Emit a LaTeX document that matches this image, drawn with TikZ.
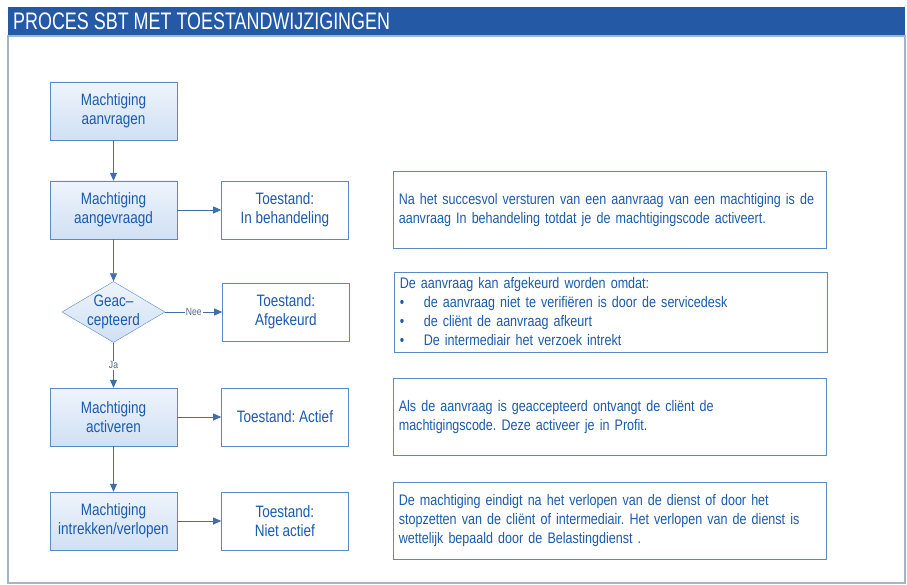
\documentclass[tikz,border=0pt]{standalone}
\usepackage{fontspec}
\setmainfont{Liberation Sans}[FakeStretch=0.82]
\newfontfamily\titlefont{Liberation Sans}[FakeStretch=0.75]
\usepackage{xcolor}
\usetikzlibrary{shapes.geometric,arrows.meta,positioning}
\definecolor{balkblauw}{HTML}{2359A5}
\definecolor{randblauw}{HTML}{5A8AC6}
\definecolor{tekstblauw}{HTML}{1B5BAB}
\definecolor{pijlblauw}{HTML}{3F6EA8}
\definecolor{vulboven}{HTML}{EEF4FB}
\definecolor{vulonder}{HTML}{D0E0F4}
\definecolor{kadergrijs}{HTML}{A3B4CB}
\definecolor{labelgrijs}{HTML}{55698A}
\frenchspacing

\begin{document}
\begin{tikzpicture}[x=1pt,y=-1pt,
    stapfont/.style={font=\fontsize{16.5}{19}\selectfont,text=tekstblauw},
    stap/.style={draw=randblauw,top color=vulboven,bottom color=vulonder,minimum width=127pt,minimum height=58pt,align=center,stapfont},
    toestand/.style={draw=randblauw,fill=white,minimum width=127pt,minimum height=58pt,align=center,stapfont},
    beslis/.style={diamond,draw=randblauw,top color=vulboven,bottom color=vulonder,minimum width=103pt,minimum height=61pt,aspect=1.7,inner sep=0pt},
    uitleg/.style={draw=randblauw,fill=white,minimum width=433pt,minimum height=77pt,text width=421pt,inner sep=6pt,align=left,font=\fontsize{15.3}{19}\selectfont,text=tekstblauw},
    pijl/.style={draw=pijlblauw,line width=0.8pt,-{Triangle[length=8pt,width=7pt]}},
    keuze/.style={font=\fontsize{10.5}{11}\selectfont,text=labelgrijs,fill=white,inner sep=1pt}]
  \useasboundingbox (0,0) rectangle (907,585);
  % kader en titel
  \fill[balkblauw] (8,7) rectangle (905,36);
  \draw[kadergrijs,line width=1.2pt] (8,36) rectangle (905,583);
  \node[anchor=west,text=white,inner sep=0pt,font=\titlefont\fontsize{23.9}{26}\selectfont] (titel) at (13,21.5) {PROCES SBT MET TOESTANDWIJZIGINGEN};

  % stappen
  \node[stap] (aanvragen) at (113.5,111) {Machtiging\\aanvragen};
  \node[stap] (aangevraagd) at (113.5,210) {Machtiging\\aangevraagd};
  \node[beslis,label={[stapfont,align=center]center:Geac–\\cepteerd}] (geaccepteerd) at (113.5,312) {};
  \node[stap] (activeren) at (113.5,417) {Machtiging\\activeren};
  \node[stap] (intrekken) at (113.5,521) {Machtiging\\intrekken/verlopen};

  % toestanden
  \node[toestand,right=44pt of aangevraagd] (behandeling) {Toestand:\\In behandeling};
  \node[toestand,right=57pt of geaccepteerd] (afgekeurd) {Toestand:\\Afgekeurd};
  \node[toestand,right=44pt of activeren] (actief) {Toestand: Actief};
  \node[toestand,right=44pt of intrekken] (nietactief) {Toestand:\\Niet actief};

  % uitleg
  \node[uitleg,right=44pt of behandeling] (uitlegbeh) {Na het succesvol versturen van een aanvraag van een machtiging is de aanvraag In behandeling totdat je de machtigingscode activeert.};
  \node[uitleg,right=44pt of afgekeurd] (uitlegafg) {De aanvraag kan afgekeurd worden omdat:\\
    \makebox[24pt][l]{•}de aanvraag niet te verifiëren is door de servicedesk\\
    \makebox[24pt][l]{•}de cliënt de aanvraag afkeurt\\
    \makebox[24pt][l]{•}De intermediair het verzoek intrekt};
  \node[uitleg,right=44pt of actief] (uitlegact) {Als de aanvraag is geaccepteerd ontvangt de cliënt de\\machtigingscode. Deze activeer je in Profit.};
  \node[uitleg,right=44pt of nietactief] (uitlegniet) {De machtiging eindigt na het verlopen van de dienst of door het stopzetten van de cliënt of intermediair. Het verlopen van de dienst is wettelijk bepaald door de Belastingdienst .};

  % pijlen
  \draw[pijl] (aanvragen) -- (aangevraagd);
  \draw[pijl] (aangevraagd) -- (geaccepteerd);
  \draw[pijl] (geaccepteerd) -- node[keuze] {Ja} (activeren);
  \draw[pijl] (activeren) -- (intrekken);
  \draw[pijl] (aangevraagd) -- (behandeling);
  \draw[pijl] (geaccepteerd) -- node[keuze] {Nee} (afgekeurd);
  \draw[pijl] (activeren) -- (actief);
  \draw[pijl] (intrekken) -- (nietactief);
\end{tikzpicture}
\end{document}
